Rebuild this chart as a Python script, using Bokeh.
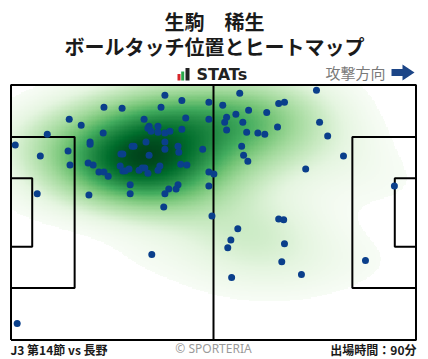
import numpy as np
from bokeh.plotting import figure
from bokeh.models import Range1d, Label, LinearColorMapper
from bokeh.palettes import Greens256
from bokeh.embed import file_html
from bokeh.resources import INLINE

# ---------------- data ----------------
PLAYER = "生駒　稀生"
TITLE = "ボールタッチ位置とヒートマップ"
BRAND = "STATs"
DIRECTION = "攻撃方向"
MATCH = "J3 第14節 vs 長野"
CREDIT = "© SPORTERIA"
MINUTES = "出場時間：90分"

PITCH_LENGTH = 105.0
PITCH_WIDTH = 68.0

# ball touch positions (metres, attacking left -> right)
touch_x = [39.9, 44.3, 51.3, 24.1, 28.8, 38.9, 15.1, 18.2, 34.5, 45.3,
           51.3, 35.8, 38.1, 35.5, 36.3, 38.1, 39.9, 41.2, 44.3, 9.4,
           23.9, 1.1, 20.5, 20.5, 31.4, 31.9, 35.0, 39.9, 43.3, 39.9,
           43.5, 49.7, 14.8, 7.6, 28.5, 29.0, 35.8, 15.3, 20.0, 21.3,
           28.3, 29.0, 29.6, 30.6, 22.8, 24.1, 25.2, 33.2, 34.0, 34.7,
           35.5, 38.1, 38.6, 44.0, 45.6, 51.3, 52.6, 30.9, 43.3, 42.8,
           40.9, 51.3, 6.8, 20.2, 30.9, 39.9, 39.6, 52.1, 36.5, 1.6,
           79.2, 59.3, 54.9, 69.4, 70.9, 58.3, 61.6, 66.3, 55.9, 55.4,
           60.1, 55.9, 61.1, 64.0, 65.8, 69.1, 80.0, 82.1, 59.8, 60.3,
           61.4, 86.2, 76.4, 99.4, 69.4, 70.7, 58.8, 57.0, 56.2, 70.9,
           70.2, 75.3, 57.2, 91.9]
touch_y = [65.3, 63.9, 63.4, 62.1, 61.8, 62.1, 58.9, 57.3, 58.9, 59.2,
           58.9, 57.0, 57.0, 56.5, 55.7, 55.4, 55.2, 55.7, 56.2, 54.9,
           55.2, 52.0, 52.8, 52.2, 51.7, 51.7, 52.8, 52.8, 51.7, 50.9,
           50.1, 50.9, 50.4, 49.1, 49.6, 49.6, 49.3, 46.7, 47.2, 46.7,
           46.4, 45.1, 45.1, 45.6, 44.8, 44.8, 43.7, 45.3, 45.9, 45.9,
           44.5, 45.3, 46.4, 46.9, 46.7, 44.8, 44.3, 41.4, 41.4, 40.3,
           40.3, 41.1, 39.0, 38.7, 39.0, 39.0, 35.5, 33.1, 22.8, 4.4,
           66.6, 65.8, 62.6, 63.1, 63.4, 60.2, 61.3, 60.7, 59.4, 58.1,
           58.1, 56.0, 55.4, 55.2, 54.9, 56.8, 58.1, 54.4, 51.7, 49.3,
           47.7, 49.1, 45.6, 41.1, 32.3, 32.1, 29.7, 26.7, 24.6, 25.7,
           20.9, 17.5, 16.7, 21.2]

# ---------------- layout helpers (page pixels -> pitch metres) ----------------
OX, OY = 0, 0
W, H = 428, 359
PX_L, PX_R, PX_T, PX_B = 10.5, 415.5, 84.5, 339.5


def xd(px):
    return (px - PX_L) / (PX_R - PX_L) * PITCH_LENGTH


def yd(py):
    return (PX_B - py) / (PX_B - PX_T) * PITCH_WIDTH


p = figure(width=W, height=H, output_backend="svg", toolbar_location=None,
           x_range=Range1d(xd(OX), xd(OX + W)), y_range=Range1d(yd(OY + H), yd(OY)),
           x_axis_location=None, y_axis_location=None, min_border=0,
           background_fill_color="white", border_fill_color="white")
p.outline_line_color = None
p.grid.visible = False

# ---------------- heatmap (gaussian KDE of touches, iso-proportion shading) ----------------
X = np.array(touch_x)
Y = np.array(touch_y)
n = len(X)
BW_ADJUST = 1.2
cov = np.cov(np.vstack([X, Y])) * (BW_ADJUST * n ** (-1 / 6)) ** 2
inv = np.linalg.inv(cov)


def kde(gx, gy):
    GX, GY = np.meshgrid(gx, gy)
    dx = GX[..., None] - X
    dy = GY[..., None] - Y
    q = inv[0, 0] * dx * dx + 2 * inv[0, 1] * dx * dy + inv[1, 1] * dy * dy
    return np.exp(-0.5 * q).sum(-1)


# support grid extended by 3 bandwidths (defines the density levels)
sx, sy = np.sqrt(cov[0, 0]), np.sqrt(cov[1, 1])
ext = kde(np.linspace(X.min() - 3 * sx, X.max() + 3 * sx, 360),
          np.linspace(Y.min() - 3 * sy, Y.max() + 3 * sy, 260))
srt = np.sort(ext.ravel())
cum = np.cumsum(srt)
cum /= cum[-1]

dens = kde(np.linspace(0, PITCH_LENGTH, 315), np.linspace(0, PITCH_WIDTH, 204))
idx = np.searchsorted(srt, dens, side="right")
prop = np.where(idx > 0, cum[np.clip(idx - 1, 0, len(cum) - 1)], 0.0)

pal = list(Greens256)
if int(pal[0][1:3], 16) < int(pal[-1][1:3], 16):
    pal = pal[::-1]
mapper = LinearColorMapper(palette=pal, low=0.05, high=1.0, low_color="rgba(0,0,0,0)")
p.image(image=[prop], x=0, y=0, dw=PITCH_LENGTH, dh=PITCH_WIDTH, color_mapper=mapper)

# ---------------- pitch markings ----------------
LC, LW = "black", 2
L, Wd = PITCH_LENGTH, PITCH_WIDTH
PEN_D, PEN_W = 16.5, 40.32
GA_D, GA_W = 5.5, 18.32
p.line([0, L, L, 0, 0], [0, 0, Wd, Wd, 0], line_color=LC, line_width=LW)
p.line([L / 2, L / 2], [0, Wd], line_color=LC, line_width=LW)
for x0, s in ((0, 1), (L, -1)):
    for d, w in ((PEN_D, PEN_W), (GA_D, GA_W)):
        yb, yt = (Wd - w) / 2, (Wd + w) / 2
        p.line([x0, x0 + s * d, x0 + s * d, x0], [yb, yb, yt, yt],
               line_color=LC, line_width=LW)

# ---------------- touches ----------------
p.scatter(touch_x, touch_y, size=7, fill_color="#0a3f8b", line_color=None)

# ---------------- header ----------------
JP = "Noto Sans CJK JP"
for txt, yy in ((PLAYER, 21), (TITLE, 46)):
    p.add_layout(Label(x=xd(214), y=yd(yy), text=txt, text_align="center",
                       text_baseline="middle", text_font=JP, text_font_size="20px",
                       text_font_style="bold", text_color="#1a1a1a"))

# STATs logo
p.quad(left=[xd(177), xd(180.7), xd(185)], right=[xd(180), xd(183.7), xd(189)],
       bottom=[yd(80)] * 3, top=[yd(73.5), yd(71), yd(67.5)],
       fill_color=["#d7262b", "#2aa84a", "#222222"], line_color=None)
p.add_layout(Label(x=xd(196), y=yd(74), text=BRAND, text_align="left",
                   text_baseline="middle", text_font="DejaVu Sans", text_font_size="16px",
                   text_font_style="bold", text_color="#222222"))

p.add_layout(Label(x=xd(385), y=yd(72), text=DIRECTION, text_align="right",
                   text_baseline="middle", text_font=JP, text_font_size="15px",
                   text_color="#7a7a7a"))
ax = [391, 402, 402, 414, 402, 402, 391]
ay = [68.5, 68.5, 64, 72, 80, 75.5, 75.5]
p.patch([xd(v) for v in ax], [yd(v) for v in ay], fill_color="#1c4587", line_color=None)

# ---------------- footer ----------------
p.add_layout(Label(x=xd(10), y=yd(349), text=MATCH, text_align="left",
                   text_baseline="middle", text_font=JP, text_font_size="12px",
                   text_font_style="bold", text_color="#1a1a1a"))
p.add_layout(Label(x=xd(213), y=yd(348), text=CREDIT, text_align="center",
                   text_baseline="middle", text_font="Noto Sans", text_font_size="12px",
                   text_color="#9a9a9a"))
p.add_layout(Label(x=xd(416), y=yd(349), text=MINUTES, text_align="right",
                   text_baseline="middle", text_font=JP, text_font_size="12px",
                   text_font_style="bold", text_color="#1a1a1a"))

open("out.html", "w").write(file_html(p, INLINE))
